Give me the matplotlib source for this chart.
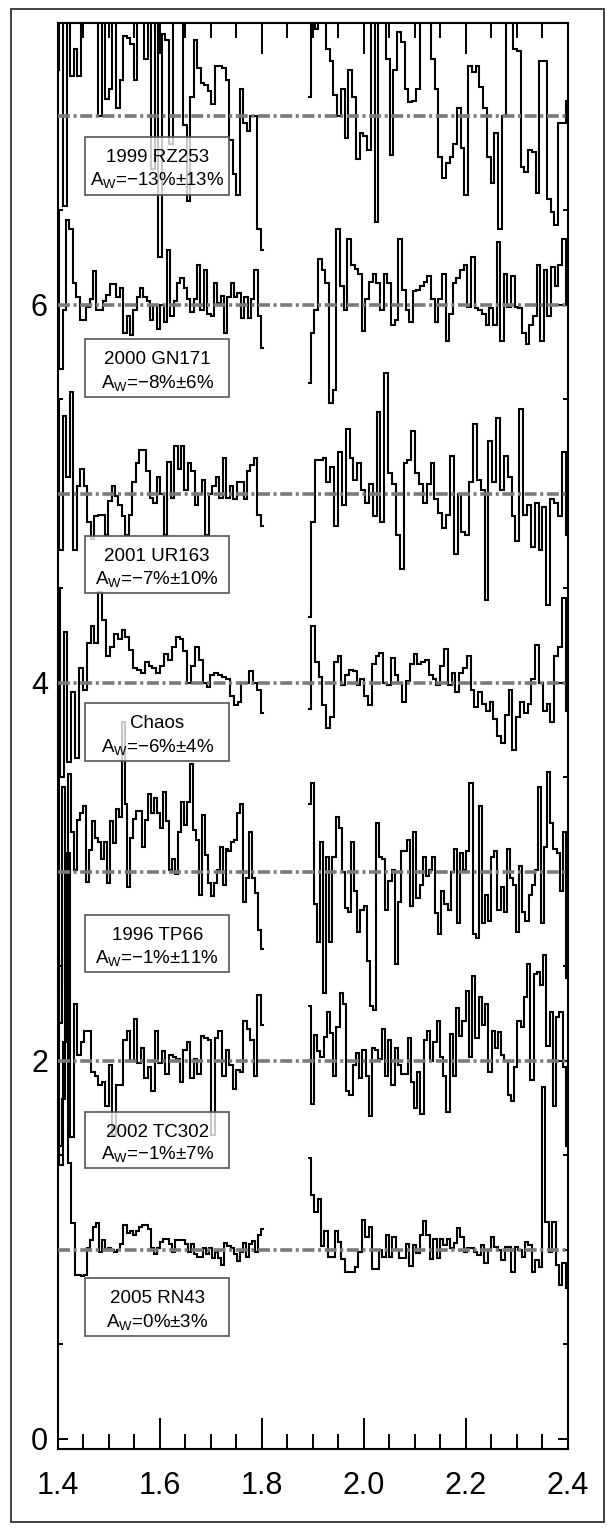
import numpy as np
import matplotlib
matplotlib.use("Agg")
import matplotlib.pyplot as plt
from matplotlib.patches import Rectangle
from matplotlib.ticker import MultipleLocator, FixedLocator, FixedFormatter

plt.rcParams['font.family'] = ['Liberation Sans', 'DejaVu Sans']
plt.rcParams['mathtext.fontset'] = 'custom'
plt.rcParams['mathtext.rm'] = 'Liberation Sans'
plt.rcParams['lines.scale_dashes'] = False

# ---------------- data ----------------
names = ["1999 RZ253", "2000 GN171", "2001 UR163", "Chaos", "1996 TP66", "2002 TC302", "2005 RN43"]
aw_text = ["−13%±13%", "−8%±6%", "−7%±10%", "−6%±4%", "−1%±11%", "−1%±7%", "0%±3%"]
offsets = [6, 5, 4, 3, 2, 1, 0]

seg1_range = (1.400, 1.802)
seg2_range = (1.893, 2.400)

rz253_a = [1.24, 1.7, 0.52, 1.6, 1.21, 1.35, 1.21, 1.6, 1.7, 1.55, 1.65,
           1.6, 1.0, 1.55, 1.09, 1.14, 1.55, 1.04, 1.19, 1.42, 1.41,
           1.38, 1.19, 1.5, 1.55, 1.30, 1.55, 0.72, 1.55, 0.25, 1.43,
           1.40, 0.85, 1.55, 1.5, 1.55, 0.95, 0.55, 1.10, 1.40, 1.25,
           1.17, 1.16, 1.13, 1.06, 1.26, 1.26, 1.25, 1.19, 0.87, 0.69,
           0.58, 1.14, 0.96, 0.92, 1.0, 1.0, 0.40, 0.29]
rz253_b = [1.10, 1.55, 1.46, 1.55, 1.6, 1.35, 1.29, 1.11, 1.0, 1.14,
           0.88, 1.24, 1.1, 0.77, 0.91, 0.89, 0.82, 1.6, 0.44, 1.6,
           1.55, 1.30, 0.79, 1.24, 1.44, 1.39, 1.14, 1.07, 1.08, 1.14,
           1.6, 1.55, 1.6, 1.30, 1.14, 0.78, 0.67, 0.75, 0.78, 0.85,
           1.04, 0.83, 0.58, 1.26, 1.23, 1.26, 1.15, 1.04, 0.78, 0.645,
           0.91, 0.40, 1.0, 1.6, 1.55, 1.35, 1.34, 0.73, 0.70, 0.82,
           0.81, 0.59, 1.29, 1.29, 0.56, 0.49, 0.42, 0.96, 0.96, 1.08]

gn171_a = [1.50, 0.66, 0.97, 1.45, 1.40, 1.115, 1.04, 0.92, 0.92, 0.99,
           1.03, 1.18, 0.97, 0.97, 1.02, 1.05, 1.11, 1.11, 1.04, 1.09,
           0.85, 0.94, 0.84, 0.97, 1.04, 1.09, 1.04, 1.02, 0.92, 1.0,
           0.87, 1.0, 0.91, 1.29, 0.94, 1.02, 1.115, 1.14, 1.09, 1.03,
           0.96, 1.03, 1.21, 0.97, 1.185, 0.95, 0.94, 1.115, 1.01, 1.045,
           0.85, 1.04, 1.115, 1.04, 1.06, 0.93, 1.04, 0.93, 1.03, 1.185,
           0.94, 0.77]
gn171_b = [0.586, 0.85, 0.97, 1.24, 1.185, 1.115, 0.48, 0.55, 1.40, 1.10,
           0.97, 1.35, 1.21, 1.19, 1.16, 0.86, 1.03, 1.12, 1.16, 1.115,
           0.97, 1.16, 1.115, 0.89, 0.92, 1.35, 1.08, 0.97, 0.91, 1.07,
           1.08, 1.10, 1.12, 1.15, 1.03, 0.91, 1.03, 1.16, 0.81, 0.95,
           1.115, 1.14, 1.185, 1.21, 0.99, 1.25, 0.98, 0.97, 0.95, 0.89,
           0.98, 0.89, 1.33, 0.81, 1.16, 0.99, 1.15, 0.99, 0.98, 0.85,
           0.79, 0.89, 0.94, 1.21, 0.81, 1.185, 0.94, 1.2, 1.1, 1.21,
           1.35, 1.0]

ur163_a = [1.50, 0.70, 1.41, 1.09, 1.54, 0.70, 1.04, 1.13, 1.04, 0.85,
           0.76, 0.88, 0.89, 0.89, 0.78, 0.96, 1.04, 0.99, 0.94, 0.88,
           0.78, 0.89, 1.06, 1.16, 1.23, 1.23, 1.12, 0.98, 0.95, 1.09,
           1.0, 0.78, 1.17, 0.98, 1.25, 1.13, 1.25, 1.02, 1.16, 1.12,
           0.94, 1.0, 1.07, 0.78, 1.0, 1.04, 1.09, 0.98, 1.19, 0.98,
           1.04, 0.97, 1.06, 1.06, 0.97, 1.12, 1.15, 1.19, 0.89, 0.83]
ur163_b = [0.35, 0.85, 1.18, 1.18, 1.19, 1.06, 1.14, 0.83, 1.22, 0.94,
           1.34, 1.19, 1.07, 1.16, 1.02, 0.95, 1.05, 0.88, 1.43, 0.85,
           1.64, 1.11, 1.05, 0.78, 0.60, 1.16, 1.18, 1.33, 1.11, 1.05,
           0.95, 1.05, 1.16, 0.97, 0.90, 0.82, 0.89, 1.20, 0.68, 1.0,
           0.80, 0.78, 1.06, 1.37, 1.07, 1.02, 0.44, 1.28, 1.06, 1.40,
           1.02, 1.20, 1.09, 0.88, 0.75, 1.45, 0.89, 0.94, 0.72, 0.95,
           0.70, 0.93, 0.41, 0.97, 0.95, 0.88, 1.22, 0.78]

chaos_a = [1.49, 0.50, 1.27, 0.58, 0.95, 0.60, 1.08, 0.96, 1.21, 1.30, 1.21,
           1.48, 1.33, 1.14, 1.19, 1.26, 1.23, 1.28, 1.24, 1.175, 1.08,
           1.07, 1.05, 1.11, 1.09, 1.08, 1.05, 1.09, 1.15, 1.12, 1.19,
           1.24, 1.23, 1.17, 1.0, 1.09, 1.19, 1.12, 1.0, 0.98, 1.04,
           1.05, 1.04, 1.03, 1.02, 0.93, 0.88, 0.90, 1.0, 1.0, 1.06,
           1.0, 0.96, 0.84]
chaos_b = [0.86, 1.30, 1.11, 1.03, 0.88, 0.76, 0.82, 1.11, 1.14, 0.99,
           1.04, 1.07, 1.06, 0.99, 1.02, 0.93, 0.88, 1.10, 1.14, 1.16,
           1.0, 0.99, 1.13, 1.04, 1.0, 0.90, 1.01, 1.10, 1.15, 1.10,
           1.11, 1.12, 1.04, 1.02, 0.99, 1.09, 1.18, 0.99, 1.05, 0.95,
           1.05, 1.08, 1.14, 0.96, 0.87, 0.95, 0.89, 0.85, 0.90, 0.81,
           0.72, 0.68, 0.83, 0.96, 0.645, 0.82, 0.90, 0.84, 0.89, 1.02,
           1.20, 1.0, 0.85, 0.89, 0.79, 1.14, 1.19, 1.45, 0.85]

tp66_a = [1.55, 0.20, 1.45, 0.40, 1.52, 1.21, 1.01, 1.275, 1.31, 1.35, 0.945,
          1.116, 1.27, 1.18, 1.16, 1.067, 1.16, 0.94, 1.27, 1.15, 1.33,
          1.29, 1.79, 1.36, 0.92, 1.18, 1.28, 1.32, 1.32, 1.13, 1.275,
          1.41, 1.31, 1.39, 1.31, 1.23, 1.42, 1.27, 1.01, 1.07, 0.99,
          1.21, 1.37, 1.25, 1.37, 1.57, 1.22, 1.17, 0.88, 1.30, 1.09,
          0.94, 0.87, 0.94, 1.01, 1.13, 0.93, 1.12, 1.11, 1.16, 1.17,
          1.31, 1.36, 0.84, 0.97, 1.21, 0.97, 0.89, 0.69, 0.59]
tp66_b = [1.36, 1.47, 0.83, 0.63, 1.16, 0.36, 1.08, 0.63, 1.08, 1.29,
          1.23, 1.0, 0.81, 0.79, 1.16, 0.90, 0.68, 0.80, 0.82, 0.53,
          0.29, 0.27, 1.26, 1.08, 1.07, 0.80, 0.95, 1.01, 0.51, 0.84,
          1.11, 1.11, 1.17, 0.82, 1.21, 0.86, 0.93, 1.08, 0.98, 1.01,
          1.08, 0.78, 0.67, 0.90, 0.83, 0.80, 1.0, 1.12, 0.73, 1.10,
          1.01, 1.11, 1.47, 0.67, 0.65, 1.35, 0.73, 0.88, 0.74, 1.08,
          1.11, 0.80, 0.92, 0.79, 1.12, 0.97, 0.93, 0.68, 1.03, 0.79,
          0.74, 0.88, 0.93, 1.01, 1.45, 0.73, 1.13, 1.53, 1.26, 1.12,
          1.10, 0.90, 1.21, 0.44]

tc302_a = [1.55, 0.45, 1.10, 2.10, 0.60, 1.30, 1.03, 1.10, 1.16, 1.16,
           0.94, 0.92, 0.87, 0.89, 0.76, 0.98, 0.61, 0.87, 0.87, 1.11,
           1.16, 1.0, 1.22, 0.99, 1.07, 0.91, 0.97, 0.84, 1.16, 0.99,
           1.05, 0.93, 1.03, 1.02, 1.01, 0.89, 1.06, 1.10, 0.91, 1.01,
           0.93, 1.13, 1.12, 1.11, 0.61, 1.12, 1.16, 0.92, 1.06, 0.98,
           0.85, 0.95, 0.94, 1.21, 1.17, 1.11, 0.92, 1.35, 1.19]
tc302_b = [1.29, 0.77, 1.137, 1.05, 1.02, 1.125, 1.26, 1.146, 0.92, 1.18,
           1.36, 1.30, 0.84, 0.82, 0.98, 1.04, 0.91, 1.06, 0.92, 0.71,
           1.07, 1.06, 1.01, 1.17, 0.92, 1.11, 0.87, 1.07, 0.98, 0.93,
           0.93, 1.12, 0.89, 0.75, 0.94, 0.72, 1.11, 1.16, 1.0, 1.10,
           1.21, 1.02, 0.92, 0.73, 1.14, 0.92, 1.28, 1.13, 1.21, 1.37,
           1.02, 1.45, 1.12, 1.34, 1.19, 1.30, 0.94, 1.16, 1.07, 1.155,
           1.03, 1.0, 0.82, 0.79, 0.97, 1.21, 1.18, 1.34, 1.51, 0.90,
           1.46, 1.47, 1.40, 1.56, 1.08, 1.26, 0.76, 1.23, 1.26, 0.97,
           0.55]

rn43_a = [1.80, 1.55, 1.80, 3.0, 1.46, 1.14, 0.87, 0.87, 0.86, 0.87, 1.01,
          1.05, 1.12, 1.14, 0.99, 1.05, 1.0, 1.01, 1.0, 0.99, 1.0,
          1.03, 1.13, 1.09, 1.10, 1.08, 1.10, 1.12, 1.13, 1.13, 1.11,
          1.01, 0.98, 1.01, 1.04, 1.06, 1.06, 1.03, 0.99, 1.05, 1.05,
          1.05, 1.03, 0.99, 1.03, 0.98, 0.965, 0.965, 1.01, 0.98, 1.01,
          0.956, 0.99, 0.956, 0.92, 1.035, 1.02, 1.01, 0.98, 0.94, 0.99,
          1.035, 0.965, 1.03, 1.045, 0.99, 1.08, 1.11]
rn43_b = [1.485, 1.29, 1.20, 1.27, 1.02, 1.10, 0.96, 0.965, 1.10, 1.04,
          0.95, 0.885, 0.885, 0.885, 0.91, 0.99, 1.16, 1.07, 1.12, 0.90,
          0.90, 1.0, 0.965, 1.08, 0.965, 1.07, 1.0, 0.956, 0.956, 1.03,
          0.914, 1.026, 0.983, 1.08, 1.155, 1.08, 0.95, 1.06, 0.956, 1.06,
          1.026, 1.06, 1.009, 1.035, 1.115, 1.07, 0.99, 1.009, 1.009, 0.99,
          0.974, 1.026, 0.93, 1.0, 1.07, 1.018, 1.0, 0.947, 1.017, 1.017,
          0.885, 1.018, 1.0, 0.965, 1.044, 1.026, 0.885, 0.947, 0.912, 1.86,
          1.15, 0.991, 1.15, 0.92, 0.816, 0.93, 0.80]

seg1_values = [rz253_a, gn171_a, ur163_a, chaos_a, tp66_a, tc302_a, rn43_a]
seg2_values = [rz253_b, gn171_b, ur163_b, chaos_b, tp66_b, tc302_b, rn43_b]

x_ticks = [1.4, 1.6, 1.8, 2.0, 2.2, 2.4]
y_ticks = [0, 2, 4, 6]

# label-box layout (data units): top / bottom of each box
box_top = [6.889, 5.820, 4.778, 3.894, 2.772, 1.730, 0.852]
box_bottom = [6.582, 5.513, 4.476, 3.587, 2.471, 1.434, 0.545]
box_x0, box_x1 = 1.4545, 1.736

# ---------------- figure ----------------
W, H = 613, 1532
fig = plt.figure(figsize=(W / 100, H / 100), dpi=100)
ax_bottom_px, ax_top_px = 1449, 23
ax = fig.add_axes([57.7 / W, (H - ax_bottom_px) / H, (567.5 - 57.7) / W,
                   (ax_bottom_px - ax_top_px) / H])

# outer frame
fig.patches.append(Rectangle((11 / W, 10 / H), (604 - 11) / W, (1522 - 9) / H,
                             transform=fig.transFigure, fill=False,
                             edgecolor='#333333', linewidth=1.3))

for k in range(len(names)):
    off = offsets[k]
    for vals, rng in ((seg1_values[k], seg1_range), (seg2_values[k], seg2_range)):
        v = np.asarray(vals, dtype=float)
        x = np.linspace(rng[0], rng[1], len(v))
        ax.plot(x, v + off, drawstyle='steps-mid', color='black', lw=1.5,
                solid_joinstyle='miter', zorder=2)
    ax.axhline(1 + off, color='#7a7a7a', lw=2.6, zorder=3,
               dashes=(8.6, 2.6, 2.2, 2.6), dash_capstyle='butt')

for k in range(len(names)):
    ax.add_patch(Rectangle((box_x0, box_bottom[k]), box_x1 - box_x0,
                           box_top[k] - box_bottom[k], facecolor='white',
                           alpha=0.78, edgecolor='none', zorder=4))
    ax.add_patch(Rectangle((box_x0, box_bottom[k]), box_x1 - box_x0,
                           box_top[k] - box_bottom[k], fill=False,
                           edgecolor='#555555', lw=1.2, zorder=5))
    hgt = box_top[k] - box_bottom[k]
    xc = (box_x0 + box_x1) / 2
    ax.text(xc, box_top[k] - 0.36 * hgt, names[k], ha='center', va='center',
            fontsize=13.5, zorder=6)
    ax.text(xc, box_top[k] - 0.77 * hgt, r"A$_\mathregular{W}$=" + aw_text[k],
            ha='center', va='center', fontsize=13.5, zorder=6)

ax.set_xlim(1.4, 2.4)
ax.set_ylim(-0.053, 7.49)
ax.xaxis.set_major_locator(FixedLocator(x_ticks))
ax.xaxis.set_major_formatter(FixedFormatter([f"{t:.1f}" for t in x_ticks]))
ax.xaxis.set_minor_locator(MultipleLocator(0.05))
ax.yaxis.set_major_locator(FixedLocator(y_ticks))
ax.yaxis.set_major_formatter(FixedFormatter([str(t) for t in y_ticks]))
ax.yaxis.set_minor_locator(FixedLocator([0.5, 1, 1.5, 2.5, 3, 3.5, 4.5, 5, 5.5, 6.5, 7]))
ax.tick_params(axis='x', which='major', direction='in', length=22, width=1.4,
               top=True, bottom=True, labelsize=22, pad=16)
ax.tick_params(axis='x', which='minor', direction='in', length=11, width=1.4,
               top=True, bottom=True)
ax.tick_params(axis='y', which='major', direction='in', length=7, width=1.4,
               left=True, right=True, labelsize=22, pad=7)
ax.tick_params(axis='y', which='minor', direction='in', length=3.6, width=1.4,
               left=True, right=True)
for s in ax.spines.values():
    s.set_linewidth(1.5)

fig.savefig("out.png", dpi=100)
